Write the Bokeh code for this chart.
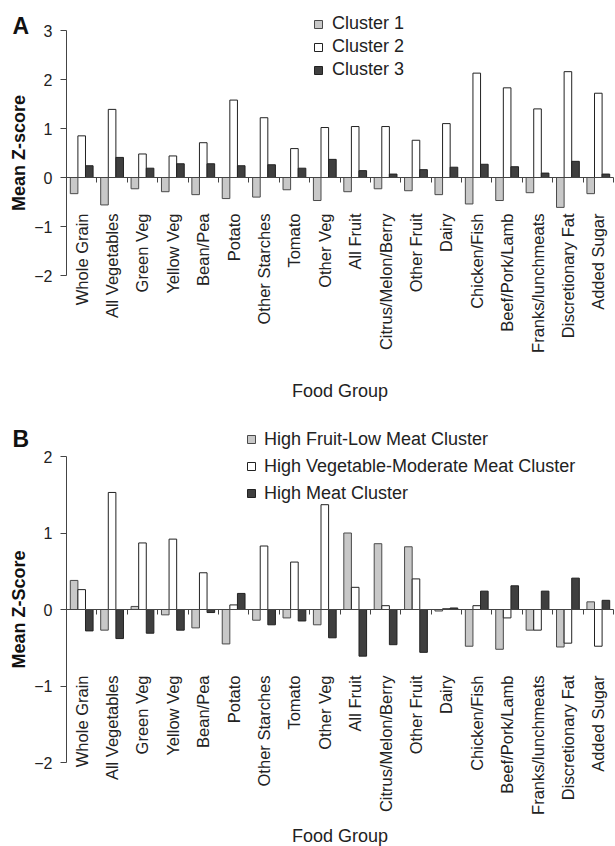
import math
import numpy as np
from bokeh.plotting import figure
from bokeh.layouts import column
from bokeh.models import (ColumnDataSource, Range1d, LinearAxis, FixedTicker, Label)
from bokeh.core.properties import value
from bokeh.embed import file_html
from bokeh.resources import INLINE

foods = ["Whole Grain", "All Vegetables", "Green Veg", "Yellow Veg", "Bean/Pea", "Potato",
         "Other Starches", "Tomato", "Other Veg", "All Fruit", "Citrus/Melon/Berry",
         "Other Fruit", "Dairy", "Chicken/Fish", "Beef/Pork/Lamb", "Franks/lunchmeats",
         "Discretionary Fat", "Added Sugar"]

# Panel A
a_names = ["Cluster 1", "Cluster 2", "Cluster 3"]
a_c1 = [-0.33, -0.56, -0.23, -0.29, -0.35, -0.43, -0.40, -0.25, -0.47, -0.29, -0.23, -0.27,
        -0.35, -0.54, -0.47, -0.31, -0.61, -0.33]
a_c2 = [0.85, 1.39, 0.48, 0.44, 0.71, 1.58, 1.22, 0.59, 1.02, 1.04, 1.04, 0.76,
        1.10, 2.13, 1.83, 1.40, 2.16, 1.72]
a_c3 = [0.24, 0.41, 0.19, 0.28, 0.28, 0.24, 0.26, 0.19, 0.37, 0.14, 0.07, 0.16,
        0.21, 0.27, 0.22, 0.09, 0.33, 0.07]
a_ticks = [-2, -1, 0, 1, 2, 3]

# Panel B
b_names = ["High Fruit-Low Meat Cluster", "High Vegetable-Moderate Meat Cluster",
           "High Meat Cluster"]
b_fruit = [0.38, -0.27, 0.04, -0.07, -0.24, -0.45, -0.14, -0.11, -0.20, 1.00, 0.86, 0.82,
           -0.02, -0.48, -0.52, -0.27, -0.49, 0.10]
b_veg = [0.26, 1.53, 0.87, 0.92, 0.48, 0.06, 0.83, 0.62, 1.37, 0.29, 0.05, 0.40,
         0.01, 0.05, -0.11, -0.27, -0.44, -0.48]
b_meat = [-0.28, -0.38, -0.31, -0.27, -0.04, 0.21, -0.20, -0.15, -0.37, -0.61, -0.46, -0.56,
          0.02, 0.24, 0.31, 0.24, 0.41, 0.12]
b_ticks = [-2, -1, 0, 1, 2]

x_title = "Food Group"

FONT = "Liberation Sans"
TXT = "#222222"
fills = ["#c8c8c8", "#ffffff", "#3f3f3f"]
lines = ["#4a4a4a", "#222222", "#222222"]

W = 615
AXIS_X = 66      # pixel position of the y axis inside the figure
RIGHT_X = 613    # pixel position of the right end of the category axis


def make_panel(series, names, yticks, height, top_px, bottom_px, ylabel, letter,
               letter_pos, legend_loc, legend_spacing, legend_standoff, xlab_gap,
               xtitle_y):
    n = len(foods)
    idx = np.arange(n)
    xu = (RIGHT_X - AXIS_X) / n
    x0, x1 = -0.5 - AXIS_X / xu, n - 0.5 + (W - RIGHT_X) / xu
    ymin, ymax = yticks[0], yticks[-1]
    yu = (bottom_px - top_px) / (ymax - ymin)
    y1 = ymax + top_px / yu
    y0 = ymin - (height - bottom_px) / yu

    p = figure(width=W, height=height, output_backend="svg", toolbar_location=None,
               x_range=Range1d(x0, x1), y_range=Range1d(y0, y1),
               x_axis_type=None, y_axis_type=None,
               min_border_left=0, min_border_right=0, min_border_top=0, min_border_bottom=0)
    p.outline_line_color = None
    p.background_fill_color = "white"
    p.border_fill_color = "white"

    offsets = [-0.25, 0.0, 0.25]
    for k, (vals, name) in enumerate(zip(series, names)):
        src = ColumnDataSource(dict(x=idx + offsets[k], top=vals))
        p.vbar(x="x", top="top", bottom=0, width=0.25, source=src,
               fill_color=fills[k], line_color=lines[k], line_width=1,
               legend_label=name)

    # y axis at x = left edge of the categories
    ya = LinearAxis(ticker=FixedTicker(ticks=yticks), fixed_location=-0.5,
                    bounds=(ymin, ymax))
    ya.axis_label = ylabel
    ya.axis_label_text_font = FONT
    ya.axis_label_text_font_style = "bold"
    ya.axis_label_text_font_size = "18px"
    ya.axis_label_text_color = "#111111"
    ya.axis_label_standoff = 2
    ya.major_label_text_font = FONT
    ya.major_label_text_font_size = "16px"
    ya.major_label_text_color = TXT
    ya.major_label_standoff = 8
    ya.major_tick_out = 6
    ya.major_tick_in = 0
    ya.minor_tick_out = 0
    ya.minor_tick_in = 0
    ya.axis_line_color = "#444444"
    ya.major_tick_line_color = "#444444"
    p.add_layout(ya, "left")

    # x axis line at y = 0 with ticks between the food groups
    xa = LinearAxis(ticker=FixedTicker(ticks=[], minor_ticks=[i + 0.5 for i in range(n)]),
                    fixed_location=0, bounds=(-0.5, n - 0.5))
    xa.major_tick_out = 0
    xa.major_tick_in = 0
    xa.minor_tick_out = 5
    xa.minor_tick_in = 0
    xa.axis_line_color = "#444444"
    xa.minor_tick_line_color = "#444444"
    p.add_layout(xa, "below")

    # category labels, vertical, ending a fixed distance below the zero line
    lab_src = ColumnDataSource(dict(x=idx, y=np.full(n, -xlab_gap / yu), t=foods))
    p.text(x="x", y="y", text="t", source=lab_src, angle=math.pi / 2,
           text_align="right", text_baseline="middle", text_font=value(FONT),
           text_font_size="16.5px", text_color=TXT)

    p.add_layout(Label(x=(AXIS_X + RIGHT_X) / 2, y=xtitle_y, x_units="screen",
                       y_units="screen", text=x_title, text_font=FONT,
                       text_font_size="18px", text_color=TXT, text_align="center",
                       text_baseline="alphabetic"))

    lg = p.legend[0]
    lg.location = legend_loc
    lg.label_text_font = FONT
    lg.label_text_font_size = "18px"
    lg.label_text_color = TXT
    lg.label_height = 20
    lg.glyph_width = 10
    lg.glyph_height = 10
    lg.label_standoff = legend_standoff
    lg.spacing = legend_spacing
    lg.padding = 0
    lg.margin = 0
    lg.border_line_color = None
    lg.background_fill_alpha = 0

    p.add_layout(Label(x=letter_pos[0], y=letter_pos[1], x_units="screen", y_units="screen",
                       text=letter, text_font=FONT, text_font_style="bold",
                       text_font_size="23px", text_color="#111111",
                       text_baseline="alphabetic"))
    return p


HA, HB = 418, 428
pA = make_panel([a_c1, a_c2, a_c3], a_names, a_ticks, HA, 30, 275, "Mean Z-score", "A",
                (12, HA - 25), (313, HA - 80), 2, 9, 36, HA - 390)
pB = make_panel([b_fruit, b_veg, b_meat], b_names, b_ticks, HB, 38, 344, "Mean Z-Score", "B",
                (12, HB - 20), (246, HB - 85.5), 6, 8, 66, HB - 417)

layout = column(pA, pB, spacing=0)
open("out.html", "w").write(file_html(layout, INLINE))
